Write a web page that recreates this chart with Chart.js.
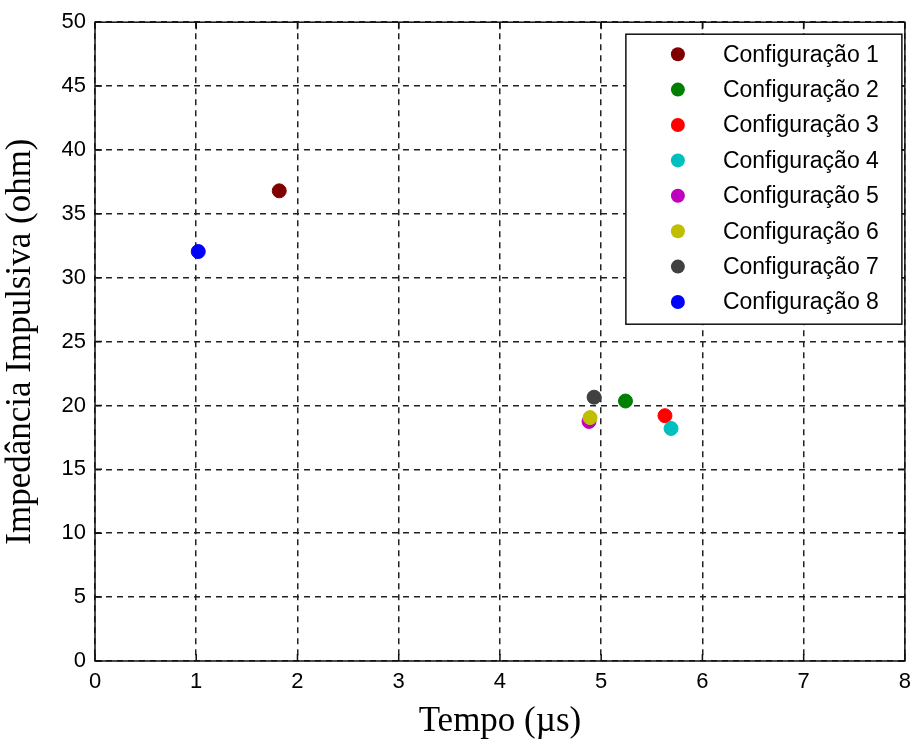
<!DOCTYPE html>
<html>
<head>
<meta charset="utf-8">
<script src="https://cdn.jsdelivr.net/npm/chart.js@4"></script>
<style>
  html, body { margin: 0; padding: 0; background: #fff; }
  #wrap { width: 919px; height: 745px; }
</style>
</head>
<body>
<div id="wrap"><canvas id="impulse-chart"></canvas></div>
<script>
const labels = ['Configuração 1', 'Configuração 2', 'Configuração 3', 'Configuração 4',
                'Configuração 5', 'Configuração 6', 'Configuração 7', 'Configuração 8'];
const tempo = [1.82, 5.24, 5.63, 5.69, 4.88, 4.89, 4.93, 1.02];
const impedancia = [36.8, 20.35, 19.2, 18.2, 18.75, 19.05, 20.65, 32.05];
const colors = ['#800000', '#008000', '#ff0000', '#00bfbf', '#bf00bf', '#bfbf00', '#404040', '#0000ff'];

const tickFont = { family: "'Liberation Sans', Arial, sans-serif", size: 22 };
const legendFont = { family: "'Liberation Sans', Arial, sans-serif", size: 23 };
const titleFont = { family: "'Liberation Serif', 'Times New Roman', serif", size: 35 };

// MATLAB style box, inward ticks and legend inside the axes
const boxPlugin = {
  id: 'boxPlugin',
  afterDraw(chart) {
    const { ctx, chartArea: a, scales } = chart;
    ctx.save();
    ctx.strokeStyle = '#111';
    ctx.lineWidth = 1.5;
    ctx.setLineDash([]);
    ctx.strokeRect(a.left, a.top, a.right - a.left, a.bottom - a.top);

    ctx.lineWidth = 1.5;
    ctx.beginPath();
    scales.x.ticks.forEach(t => {
      const px = scales.x.getPixelForValue(t.value);
      ctx.moveTo(px, a.bottom); ctx.lineTo(px, a.bottom - 7);
      ctx.moveTo(px, a.top); ctx.lineTo(px, a.top + 7);
    });
    scales.y.ticks.forEach(t => {
      const py = scales.y.getPixelForValue(t.value);
      ctx.moveTo(a.left, py); ctx.lineTo(a.left + 7, py);
      ctx.moveTo(a.right, py); ctx.lineTo(a.right - 7, py);
    });
    ctx.stroke();

    // legend
    const lw = 276, lh = 290;
    const lx = a.right - 3 - lw, ly = a.top + 12;
    ctx.fillStyle = '#fff';
    ctx.fillRect(lx, ly, lw, lh);
    ctx.lineWidth = 1.5;
    ctx.strokeRect(lx, ly, lw, lh);
    ctx.font = `${legendFont.size}px ${legendFont.family}`;
    ctx.textBaseline = 'middle';
    ctx.textAlign = 'left';
    chart.data.datasets.forEach((ds, i) => {
      const cy = ly + 20 + i * 35.4;
      ctx.fillStyle = ds.backgroundColor;
      ctx.beginPath();
      ctx.arc(lx + 52, cy, 7, 0, Math.PI * 2);
      ctx.fill();
      ctx.fillStyle = '#000';
      ctx.fillText(ds.label, lx + 97, cy + 1);
    });
    ctx.restore();
  }
};

new Chart(document.getElementById('impulse-chart'), {
  type: 'scatter',
  data: {
    datasets: labels.map((lab, i) => ({
      label: lab,
      data: [{ x: tempo[i], y: impedancia[i] }],
      backgroundColor: colors[i],
      borderColor: colors[i],
      pointRadius: 7,
      pointHoverRadius: 7,
      order: labels.length - i,
    }))
  },
  options: {
    responsive: true,
    maintainAspectRatio: false,
    animation: false,
    layout: { padding: { top: 20, right: 8, left: 0, bottom: 0 } },
    plugins: { legend: { display: false }, tooltip: { enabled: false } },
    scales: {
      x: {
        type: 'linear',
        min: 0, max: 8,
        ticks: { stepSize: 1, color: '#000', font: tickFont, padding: 8 },
        grid: { color: '#222', lineWidth: 1.5, drawTicks: false, borderDash: [6, 5] },
        border: { display: false, dash: [6, 5] },
        title: { display: true, text: 'Tempo (µs)', color: '#000', font: titleFont, padding: { top: 0, bottom: 2 } },
        afterFit: s => { s.height = 84; }
      },
      y: {
        min: 0, max: 50,
        ticks: { stepSize: 5, color: '#000', font: tickFont, padding: 9 },
        grid: { color: '#222', lineWidth: 1.5, drawTicks: false, borderDash: [6, 5] },
        border: { display: false, dash: [6, 5] },
        title: { display: true, text: 'Impedância Impulsiva (ohm)', color: '#000', font: titleFont, padding: { top: 0, bottom: 6 } },
        afterFit: s => { s.width = 95; }
      }
    }
  },
  plugins: [boxPlugin]
});
</script>
</body>
</html>
